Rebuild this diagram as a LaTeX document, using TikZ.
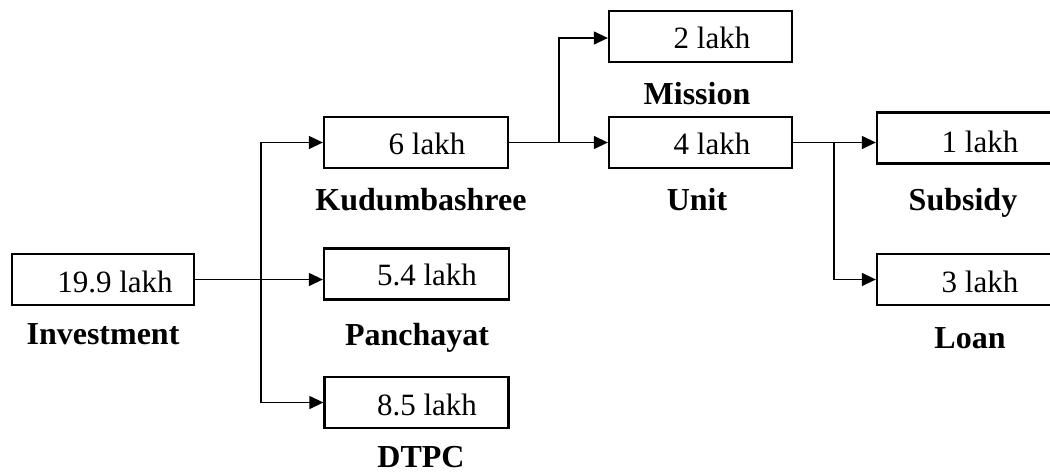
\documentclass[tikz,border=0pt]{standalone}
\usepackage{fontspec}
\setmainfont{Liberation Serif}
\usetikzlibrary{arrows.meta}
\tikzset{
  box/.style={draw, line width=2.3pt, inner sep=0pt, minimum height=51pt, rectangle},
  val/.style={anchor=base, inner sep=0pt, font=\fontsize{31}{36}\selectfont},
  lbl/.style={anchor=base, inner sep=0pt, font=\fontsize{32}{36}\selectfont\bfseries},
  conn/.style={line width=1.3pt, -{Triangle[length=14pt,width=13pt]}},
  plain/.style={line width=1.3pt}
}
\begin{document}
\begin{tikzpicture}[x=1pt,y=-1pt]
\clip (0,0) rectangle (1050,472);
\fill[white] (0,0) rectangle (1050,472);
% boxes
\node[box, minimum width=182pt] (inv) at (103,279.5) {};
\node[box, minimum width=184pt] (kud) at (416,142.5) {};
\node[box, minimum width=185pt] (pan) at (416.5,274) {};
\node[box, minimum width=184pt] (dtpc) at (416.5,402.5) {};
\node[box, minimum width=183pt] (mis) at (700.5,36.5) {};
\node[box, minimum width=183pt] (unit) at (700.5,142.5) {};
\node[box, minimum width=200pt] (sub) at (977,138) {};
\node[box, minimum width=200pt] (loan) at (977,279.5) {};
% values
\node[val] (tinv) at (115,292) {19.9 lakh};
\node[val] (tkud) at (427,154) {6 lakh};
\node[val] (tpan) at (427,285) {5.4 lakh};
\node[val] (tdtpc) at (427,415) {8.5 lakh};
\node[val] (tmis) at (712,48) {2 lakh};
\node[val] (tunit) at (712,154) {4 lakh};
\node[val] (tsub) at (980,152) {1 lakh};
\node[val] (tloan) at (980,292) {3 lakh};
% labels
\node[lbl] (linv) at (103,344) {Investment};
\node[lbl] (lkud) at (421,210) {Kudumbashree};
\node[lbl] (lpan) at (417,345) {Panchayat};
\node[lbl] (ldtpc) at (421,467) {DTPC};
\node[lbl] (lmis) at (697,104) {Mission};
\node[lbl] (lunit) at (697,210) {Unit};
\node[lbl] (lsub) at (963,210) {Subsidy};
\node[lbl] (lloan) at (970,348) {Loan};
% junctions
\coordinate (j1) at (261,280);
\coordinate (j2) at (559,142.5);
\coordinate (j3) at (834,142.5);
% connectors
\draw[conn] (inv.east) -- (inv.east -| pan.west);
\draw[conn] (j1) |- (kud.west);
\draw[conn] (j1) |- (dtpc.west);
\draw[conn] (kud.east) -- (unit.west);
\draw[conn] (j2) |- ([yshift=-1.5pt]mis.west);
\draw[conn] (unit.east) -- (unit.east -| sub.west);
\draw[conn] (j3) |- (loan.west);
\end{tikzpicture}
\end{document}
